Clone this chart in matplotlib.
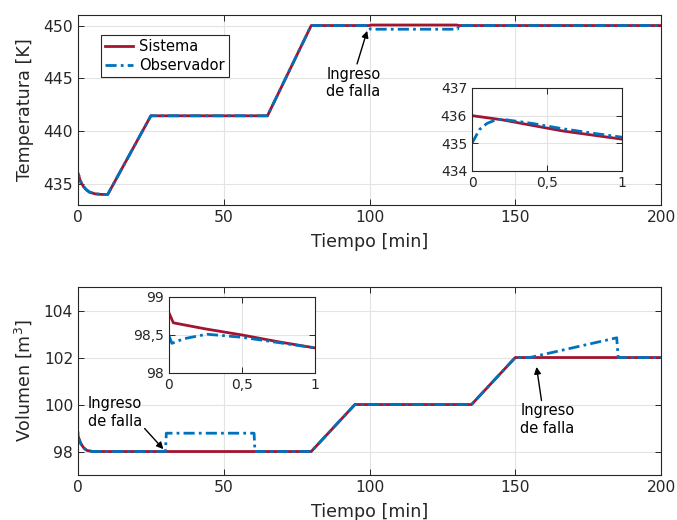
import matplotlib
matplotlib.use("Agg")
from matplotlib import pyplot as plt

RED = "#A2142F"
BLUE = "#0072BD"
DASHDOT = (0, (4, 1.5, 1, 1.5))

# Temperatura del reactor [K]
temp_sis_t = [0, 0.2, 0.4, 0.6, 0.8, 1, 2, 3, 4, 6, 8, 10.2, 25, 65, 80, 100, 100.5, 130, 130.5, 200]
temp_sis = [436.0, 435.85, 435.65, 435.45, 435.3, 435.15, 434.7, 434.4, 434.2, 434.05, 434.0, 434.0,
            441.45, 441.45, 450.0, 450.0, 450.05, 450.05, 450.0, 450.0]
temp_obs_t = [0, 0.05, 0.1, 0.15, 0.2, 0.4, 0.6, 0.8, 1, 2, 3, 4, 6, 8, 10.2, 25, 65, 80, 99.8, 100.3,
              130.2, 130.6, 200]
temp_obs = [435.0, 435.5, 435.72, 435.83, 435.87, 435.72, 435.53, 435.37, 435.22, 434.72, 434.42, 434.22,
            434.06, 434.0, 434.0, 441.45, 441.45, 450.0, 450.0, 449.65, 449.65, 450.0, 450.0]

# Volumen del reactor [m^3]
vol_sis_t = [0, 0.03, 0.25, 0.5, 0.75, 1, 2, 3, 5, 80, 95, 135, 150, 200]
vol_sis = [98.79, 98.66, 98.58, 98.5, 98.41, 98.33, 98.15, 98.05, 98.0, 98.0, 100.0, 100.0, 102.0, 102.0]
vol_obs_t = [0, 0.02, 0.1, 0.26, 0.5, 0.75, 1, 2, 3, 5, 30, 30.3, 60.4, 60.7, 80, 95, 135, 150, 155,
             184.8, 185.3, 200]
vol_obs = [98.49, 98.39, 98.45, 98.51, 98.47, 98.4, 98.33, 98.15, 98.05, 98.0, 98.0, 98.78, 98.78, 98.0,
           98.0, 100.0, 100.0, 102.0, 102.0, 102.84, 102.0, 102.0]

x_ticks = [0, 50, 100, 150, 200]
temp_ticks = [435, 440, 445, 450]
vol_ticks = [98, 100, 102, 104]
inset_x_ticks = [0, 0.5, 1]
inset_x_labels = ["0", "0,5", "1"]
temp_inset_ticks = [434, 435, 436, 437]
vol_inset_ticks = [98, 98.5, 99]
vol_inset_labels = ["98", "98,5", "99"]

ARROW = dict(arrowstyle="-|>", color="black", lw=1.0, mutation_scale=10, shrinkA=0, shrinkB=0)


def style_axes(ax, fontsize=11.2):
    ax.grid(True, color="#e3e3e3", linewidth=0.8)
    ax.set_axisbelow(True)
    ax.tick_params(direction="in", top=True, right=True, labelsize=fontsize,
                   colors="#262626", length=4, width=0.7)
    for spine in ax.spines.values():
        spine.set_color("#262626")
        spine.set_linewidth(0.8)


def plot_pair(ax, t_sis, y_sis, t_obs, y_obs, lw=2.0):
    ax.plot(t_sis, y_sis, color=RED, linewidth=lw, label="Sistema")
    ax.plot(t_obs, y_obs, color=BLUE, linewidth=lw, linestyle=DASHDOT, label="Observador")


fig = plt.figure(figsize=(6.77, 5.2), dpi=100)

# Temperatura
ax1 = fig.add_axes([0.1152, 0.6058, 0.8612, 0.3654])
plot_pair(ax1, temp_sis_t, temp_sis, temp_obs_t, temp_obs)
ax1.set_xlim(0, 200)
ax1.set_ylim(433, 451)
ax1.set_xticks(x_ticks)
ax1.set_yticks(temp_ticks)
ax1.set_xlabel("Tiempo [min]", fontsize=12.6, color="#262626", labelpad=6)
ax1.set_ylabel("Temperatura [K]", fontsize=12.6, color="#262626", labelpad=7)
style_axes(ax1)
leg = ax1.legend(loc="upper left", bbox_to_anchor=(0.027, 0.935), fontsize=10.5, fancybox=False,
                 framealpha=1, edgecolor="#262626", handlelength=1.9, handletextpad=0.4,
                 borderpad=0.3, labelspacing=0.25)
leg.get_frame().set_linewidth(0.8)
ax1.annotate("Ingreso\nde falla", xy=(99.2, 449.5), xytext=(94.5, 446.1), fontsize=10.5,
             ha="center", va="top", arrowprops=dict(ARROW, relpos=(0.55, 1.0)))

ins1 = fig.add_axes([0.6972, 0.6712, 0.2216, 0.1596])
plot_pair(ins1, temp_sis_t, temp_sis, temp_obs_t, temp_obs)
ins1.set_xlim(0, 1)
ins1.set_ylim(434, 437)
ins1.set_xticks(inset_x_ticks)
ins1.set_xticklabels(inset_x_labels)
ins1.set_yticks(temp_inset_ticks)
style_axes(ins1, fontsize=10)

# Volumen
ax2 = fig.add_axes([0.1152, 0.0865, 0.8612, 0.3615])
plot_pair(ax2, vol_sis_t, vol_sis, vol_obs_t, vol_obs)
ax2.set_xlim(0, 200)
ax2.set_ylim(97, 105)
ax2.set_xticks(x_ticks)
ax2.set_yticks(vol_ticks)
ax2.set_xlabel("Tiempo [min]", fontsize=12.6, color="#262626", labelpad=5.5)
ax2.set_ylabel("Volumen [m$^3$]", fontsize=12.6, color="#262626", labelpad=7)
style_axes(ax2)
ax2.annotate("Ingreso\nde falla", xy=(29.3, 98.1), xytext=(3.3, 100.35), fontsize=10.5,
             ha="left", va="top", arrowprops=dict(ARROW, relpos=(1.0, 0.1)))
ax2.annotate("Ingreso\nde falla", xy=(157.3, 101.6), xytext=(161, 100.05), fontsize=10.5,
             ha="center", va="top", arrowprops=dict(ARROW, relpos=(0.4, 1.0)))

ins2 = fig.add_axes([0.2496, 0.2827, 0.2157, 0.1462])
plot_pair(ins2, vol_sis_t, vol_sis, vol_obs_t, vol_obs)
ins2.set_xlim(0, 1)
ins2.set_ylim(98, 99)
ins2.set_xticks(inset_x_ticks)
ins2.set_xticklabels(inset_x_labels)
ins2.set_yticks(vol_inset_ticks)
ins2.set_yticklabels(vol_inset_labels)
style_axes(ins2, fontsize=10)

fig.savefig("out.png", dpi=100)
